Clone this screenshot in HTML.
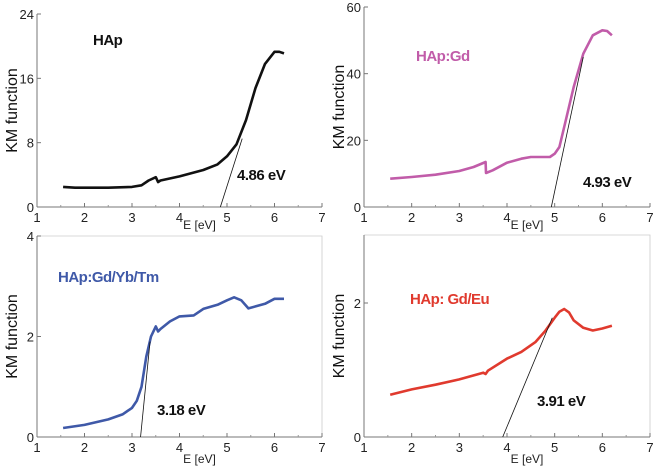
<!DOCTYPE html>
<html><head><meta charset="utf-8"><style>
body{margin:0;background:#fff;}
svg{display:block;font-family:"Liberation Sans",sans-serif;}
</style></head><body>
<svg id="c" width="654" height="469" viewBox="0 0 654 469"></svg>
<script>
const ticksX=[1,2,3,4,5,6,7];
const e1=[1.55,1.8,2,2.5,3,3.2,3.35,3.5,3.55,3.6,4,4.5,4.8,5,5.2,5.4,5.6,5.8,6.0,6.1,6.2];
const km1=[2.5,2.4,2.4,2.4,2.5,2.7,3.3,3.7,3.1,3.3,3.8,4.6,5.3,6.3,7.8,10.8,14.8,17.8,19.3,19.3,19.1];
const e2=[1.55,2,2.5,3,3.3,3.55,3.56,3.7,4,4.3,4.5,4.7,4.9,5.0,5.1,5.2,5.4,5.6,5.8,6.0,6.1,6.2];
const km2=[8.5,9,9.7,10.8,12,13.5,10.2,11,13.3,14.5,15,15,15,16,18,24,36,46,51.5,53,52.8,51.5];
const e3=[1.55,2,2.5,2.8,3.0,3.1,3.2,3.3,3.4,3.5,3.55,3.6,3.8,4,4.3,4.5,4.8,5.0,5.15,5.3,5.45,5.6,5.8,6.0,6.2];
const km3=[0.18,0.24,0.35,0.45,0.58,0.72,1.0,1.6,2.0,2.2,2.1,2.15,2.3,2.4,2.42,2.55,2.63,2.72,2.78,2.72,2.56,2.6,2.65,2.75,2.75];
const e4=[1.55,2,2.5,3,3.5,3.55,3.6,4,4.3,4.6,4.8,5.0,5.1,5.2,5.3,5.4,5.6,5.8,6.0,6.2];
const km4=[0.63,0.71,0.78,0.86,0.96,0.94,0.99,1.17,1.27,1.42,1.58,1.78,1.87,1.91,1.86,1.74,1.63,1.59,1.62,1.66];
const ticks1=[0,8,16,24],ticks2=[0,20,40,60],ticks3=[0,2,4],ticks4=[0,2];
const gaps=[4.86,4.93,3.18,3.91];
const svg=document.getElementById('c');const NS='http://www.w3.org/2000/svg';
function mk(t,a,p){const el=document.createElementNS(NS,t);for(const k in a)el.setAttribute(k,a[k]);(p||svg).appendChild(el);return el;}
const panels=[
 {x0:37,x1:322,y0:207,yTop:14,ymax:24,e:e1,k:km1,ticks:ticks1,color:'#111',label:'HAp',lx:93,ly:45,lc:'#111',tan:[4.86,0,5.32,8.5],gx:237,gy:180,frame:false},
 {x0:364,x1:650,y0:207,yTop:7,ymax:60,e:e2,k:km2,ticks:ticks2,color:'#c15ca9',label:'HAp:Gd',lx:416,ly:61,lc:'#c15ca9',tan:[4.93,0,5.6,45],gx:583,gy:187,frame:false},
 {x0:37,x1:322,y0:437,yTop:236,ymax:4,e:e3,k:km3,ticks:ticks3,color:'#3f59a8',label:'HAp:Gd/Yb/Tm',lx:58,ly:282,lc:'#3f59a8',tan:[3.18,0,3.38,1.9],gx:157,gy:415,frame:true},
 {x0:364,x1:650,y0:437,yTop:235,ymax:3.015,e:e4,k:km4,ticks:ticks4,color:'#e03a2e',label:'HAp: Gd/Eu',lx:410,ly:304,lc:'#e03a2e',tan:[3.91,0,4.95,1.78],gx:537,gy:406,frame:true}
];
panels.forEach((p,i)=>{
 const g=mk('g',{});
 
 
 const sx=v=>p.x0+(v-1)/6*(p.x1-p.x0);
 const sy=v=>p.y0-v/p.ymax*(p.y0-p.yTop);
 if(p.frame){mk('polyline',{points:`${p.x0},${p.yTop} ${p.x1},${p.yTop} ${p.x1},${p.y0}`,fill:'none',stroke:'#ccc','stroke-width':0.8},g);}
 const ax=mk('line',{x1:p.x0,y1:p.y0,x2:p.x1,y2:p.y0,stroke:'#777','stroke-width':1},g);
 
 const ay=mk('line',{x1:p.x0,y1:p.y0,x2:p.x0,y2:p.yTop,stroke:'#777','stroke-width':1},g);
 
 ticksX.forEach(v=>{
  mk('line',{x1:sx(v),y1:p.y0,x2:sx(v),y2:p.y0-4,stroke:'#777'},g);
  if(v<7) mk('line',{x1:sx(v+0.5),y1:p.y0,x2:sx(v+0.5),y2:p.y0-2,stroke:'#999'},g);
  const t=mk('text',{x:sx(v),y:p.y0+15,'font-size':13,'text-anchor':'middle',fill:'#222'},g);t.textContent=v;
  
 });
 p.ticks.forEach(v=>{
  mk('line',{x1:p.x0,y1:sy(v),x2:p.x0+4,y2:sy(v),stroke:'#777'},g);
  const t=mk('text',{x:p.x0-3,y:sy(v)+5,'font-size':13,'text-anchor':'end',fill:'#222'},g);t.textContent=v;
  
 });
 const xl=mk('text',{x:(p.x0+p.x1)/2+20,y:p.y0+(i<2?22:26),'font-size':12,'text-anchor':'middle',fill:'#222'},g);xl.textContent='E  [eV]';
 
 const cy=(p.y0+p.yTop)/2;
 const yl=mk('text',{x:p.x0-20,y:cy,'font-size':16,'text-anchor':'middle',fill:'#111',transform:`rotate(-90 ${p.x0-20} ${cy})`},g);yl.textContent='KM function';
 
 const pts=p.e.map((v,j)=>sx(v).toFixed(1)+','+sy(p.k[j]).toFixed(1)).join(' ');
 const ln=mk('polyline',{points:pts,fill:'none',stroke:p.color,'stroke-width':2.6,'stroke-linejoin':'round'},g);
 
 const tn=mk('line',{x1:sx(p.tan[0]),y1:sy(p.tan[1]),x2:sx(p.tan[2]),y2:sy(p.tan[3]),stroke:'#111','stroke-width':0.8},g);
 
 const lb=mk('text',{x:p.lx,y:p.ly,'font-size':15,'font-weight':'bold',fill:p.lc,'letter-spacing':'-0.5'},g);lb.textContent=p.label;
 
 const gl=mk('text',{x:p.gx,y:p.gy,'font-size':15,'font-weight':'bold',fill:'#111','letter-spacing':'-0.5'},g);gl.textContent=gaps[i].toFixed(2)+' eV';
 
});
</script>
</body></html>
